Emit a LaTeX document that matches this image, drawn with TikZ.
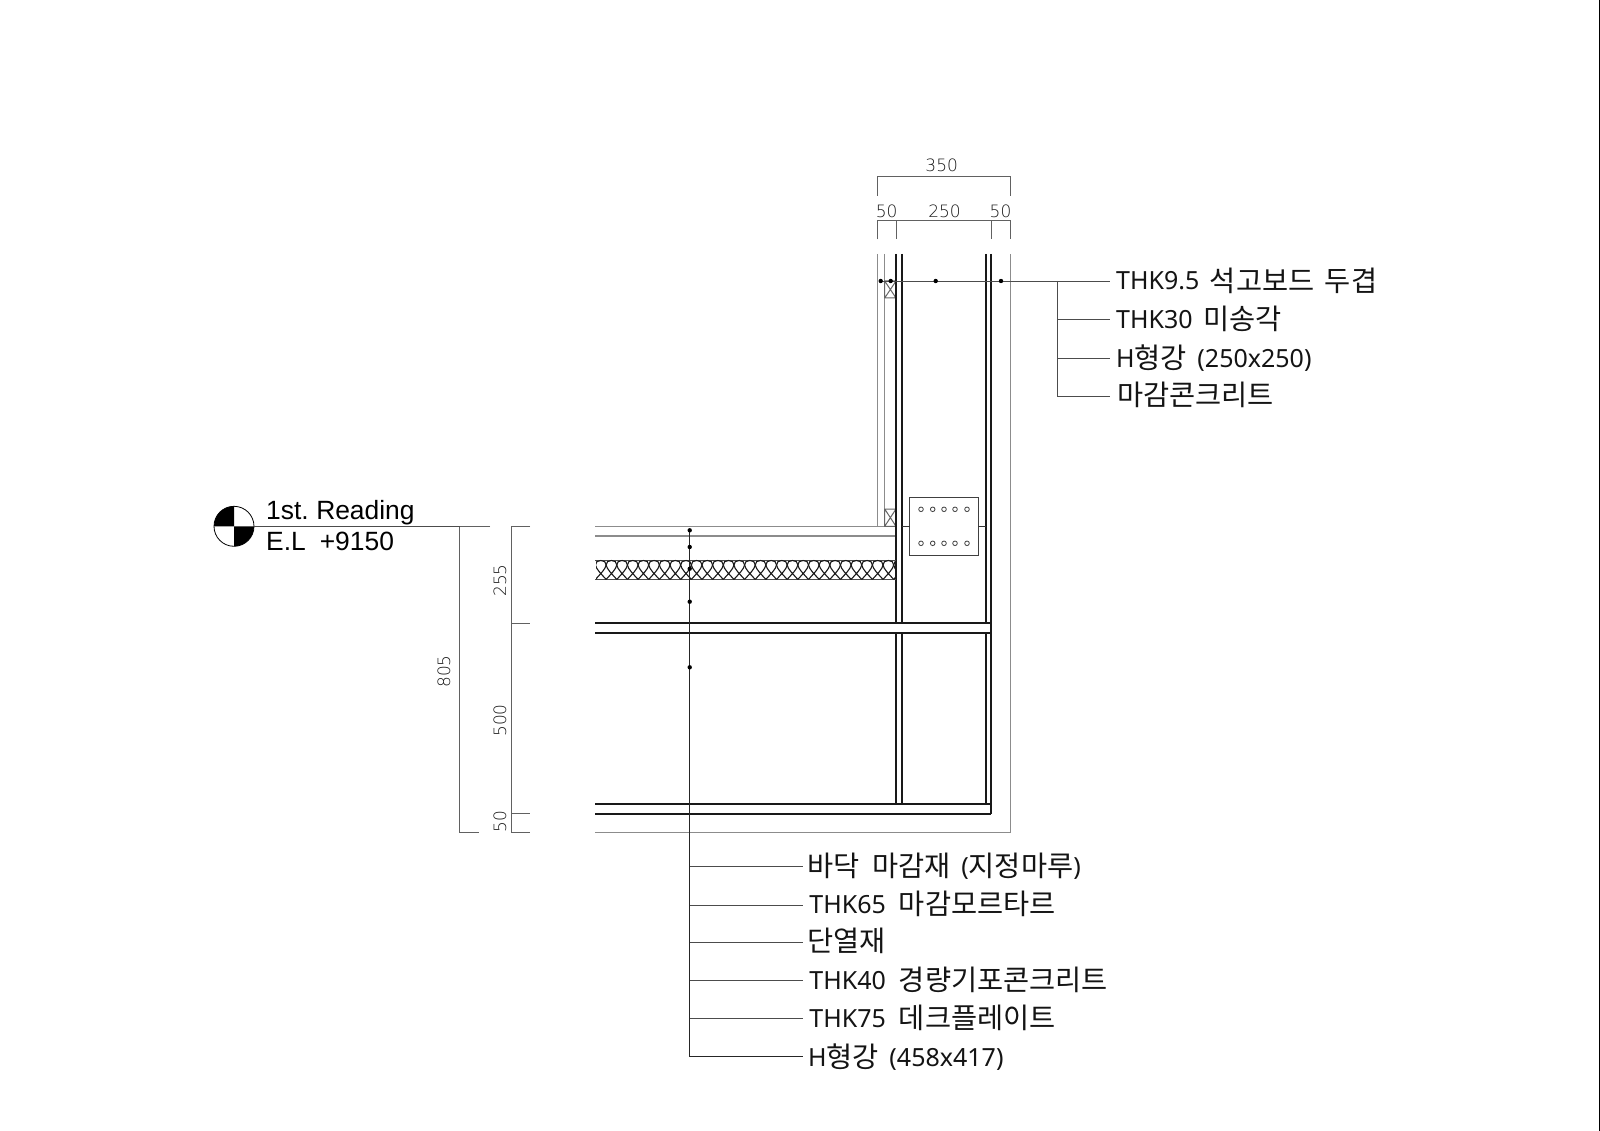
\documentclass[tikz,border=0pt]{standalone}
\usepackage{fontspec}
\setmainfont{Noto Sans}
\newfontfamily\kr{Noto Sans CJK KR}
\newfontfamily\ar{Liberation Sans}
\newfontfamily\dimf{DejaVu Sans ExtraLight}
\newcommand{\krsp}{\hspace{10.5pt}}
\newcommand{\krbp}{\hspace{13pt}}
\newcommand{\lab}[2]{{\fontsize{25}{25}\selectfont #1}\raisebox{-1.3pt}{\kr\fontsize{28.4}{28.4}\selectfont #2}}
\tikzset{
 dimline/.style={draw=black!62,line width=0.9pt},
 blk/.style={draw=black!90,line width=1.7pt},
 gry/.style={draw=black!45,line width=1pt},
 lead/.style={draw=black!70,line width=0.9pt},
 dimtxt/.style={inner sep=0,text=black!90,font=\dimf\fontsize{17}{17}\selectfont},
 labtxt/.style={inner sep=0,anchor=base west,text=black!92},
 dotn/.style={circle,fill=black,inner sep=0,minimum size=4.4pt},
 hole/.style={circle,draw=black!75,line width=0.8pt,fill=white,inner sep=0,minimum size=4.6pt},
 eltxt/.style={inner sep=0,anchor=base west,font=\ar\fontsize{26.4}{26.4}\selectfont}
}
\begin{document}
\begin{tikzpicture}[x=1pt,y=-1pt,line cap=butt,line join=miter]
\useasboundingbox[fill=white] (0,0) rectangle (1600,1131);
\fill[black] (1598.8,0) rectangle (1600,1131);
% finishing outline (grey)
\draw[gry] (877.3,254) -- (877.3,526.3);
\draw[gry] (884.7,254) -- (884.7,526.3);
\draw[gry] (595.3,526.3) -- (896,526.3);
\draw[gry,line width=1.3pt] (595.3,536) -- (896,536);
\draw[gry,line width=1.3pt] (595.3,832.7) -- (1010.3,832.7) -- (1010.3,254);
% timber blocks
\draw[gry,draw=black!60] (884.7,281) rectangle (896,298) (884.7,281) -- (896,298) (896,281) -- (884.7,298);
\draw[gry,draw=black!60] (884.7,509) rectangle (896,526.3) (884.7,509) -- (896,526.3) (896,509) -- (884.7,526.3);
% H beam column
\draw[blk] (896,254) -- (896,623.3) (896,633.3) -- (896,803.7);
\draw[blk] (902,254) -- (902,623.3) (902,633.3) -- (902,803.7);
\draw[blk] (985.7,254) -- (985.7,623.3) (985.7,633.3) -- (985.7,803.7);
\draw[blk] (991.3,254) -- (991.3,623.3) (991.3,633.3) -- (991.3,814);
% H beam flanges
\draw[blk] (595.3,623.3) -- (991.3,623.3) -- (991.3,633.3) -- (595.3,633.3);
\draw[blk] (595.3,803.7) -- (991.3,803.7);
\draw[blk] (595.3,814) -- (991.3,814);
% plate
\draw[draw=black!75,line width=1.2pt,fill=white] (909.7,497.7) rectangle (978.3,555.3);
\draw[draw=black!80,line width=1pt] (902,526.3) -- (909.7,526.3) (978.3,526.3) -- (985.7,526.3);
\foreach \hy in {509.3,543.3}\foreach \hx in {921,932.7,944,955,967}\node[hole] at (\hx,\hy) {};
% insulation
\draw[draw=black!70,line width=1.2pt] (595.3,560.5) -- (896,560.5) (595.3,579.4) -- (896,579.4);
\begin{scope}
\clip (596,559) rectangle (896,581);
\foreach \i in {0,...,29}{
 \pgfmathsetmacro{\xc}{600.8+\i*10.65}
 \draw[draw=black!90,line width=1.1pt] (\xc-5.3,579.4) .. controls (\xc-0.5,574) and (\xc+4.8,569) .. (\xc+5.3,565) .. controls (\xc+5.7,562) and (\xc+3,560.5) .. (\xc,560.5) .. controls (\xc-3,560.5) and (\xc-5.7,562) .. (\xc-5.3,565) .. controls (\xc-4.8,569) and (\xc+0.5,574) .. (\xc+5.3,579.4);
}
\end{scope}
% dimensions top
\coordinate (d0) at (877.3,195.7);\coordinate (d1) at (877.3,176.7);\coordinate (d2) at (1010.3,176.7);\coordinate (d3) at (1010.3,195.7);
\draw[dimline] (d0) -- (d1) -- (d2) -- (d3);
\draw[dimline] (877.3,239.3) -- (877.3,220.3) -- (1010.3,220.3) -- (1010.3,239.3) (896.3,220.3) -- (896.3,239.3) (991.3,220.3) -- (991.3,239.3);
\node[dimtxt] (t350) at (941.7,165) {350};
\node[dimtxt] (t50a) at (886.7,211.5) {50};
\node[dimtxt] (t250) at (944.5,211.5) {250};
\node[dimtxt] (t50b) at (1000.5,211.5) {50};
% dimensions left
\draw[dimline] (490,526.3) -- (459.7,526.3) -- (459.7,832.7) -- (479.3,832.7);
\draw[dimline] (530,526.3) -- (511,526.3) -- (511,832.7) -- (530,832.7) (511,623.3) -- (530,623.3) (511,813.7) -- (530,813.7);
\node[dimtxt,rotate=90] (t805) at (444,671.5) {805};
\node[dimtxt,rotate=90] (t255) at (500,580.5) {255};
\node[dimtxt,rotate=90] (t500) at (500,720.5) {500};
\node[dimtxt,rotate=90] (t50c) at (500,821.5) {50};
% level mark
\node[circle,draw=black,line width=0.8pt,minimum size=40pt,inner sep=0] (lv) at (234,526.3) {};
\fill[black] (234,526.3) -- (214,526.3) .. controls (214,515.3) and (223,506.3) .. (234,506.3) -- cycle;
\fill[black] (234,526.3) -- (254,526.3) .. controls (254,537.3) and (245,546.3) .. (234,546.3) -- cycle;
\draw[draw=black!70,line width=0.9pt] (lv.east) -- (459.7,526.3);
\node[eltxt] (el1) at (266,519.3) {1st.\hspace{7.5pt}Reading};
\node[eltxt] (el2) at (266,550.7) {E.L\hspace{14pt}+9150};
% leaders right
\coordinate (rs) at (880.7,281);
\node[labtxt] (r1) at (1116,290) {\lab{THK9.5\krsp}{석고보드\krsp 두겹}};
\node[labtxt] (r2) at (1116,328.3) {\lab{THK30\krsp}{미송각}};
\node[labtxt] (r3) at (1116,367) {\lab{H}{형강\krsp}\lab{(250x250)}{}};
\node[labtxt] (r4) at (1117,404) {\lab{}{마감콘크리트}};
\coordinate (rj) at (1057.3,281);
\draw[lead] (rs) -- (1110,281);
\draw[lead] (rj) |- (1110,396.3);
\draw[lead] (1057.3,319.3) -- (1110,319.3) (1057.3,358.3) -- (1110,358.3);
\foreach \x/\y in {880.7/281,890.7/281,935.7/281,1001/281}\node[dotn] at (\x,\y) {};
% leaders bottom
\draw[lead,draw=black!85] (689.7,530.3) -- (689.7,1056.7) -- (802.7,1056.7);
\draw[lead] (689.7,866.7) -- (802.7,866.7) (689.7,905) -- (802.7,905) (689.7,942.7) -- (802.7,942.7) (689.7,980.7) -- (802.7,980.7) (689.7,1018.7) -- (802.7,1018.7);
\foreach \y in {530.3,547,568.7,601.7,667.3}\node[dotn] at (689.7,\y) {};
\node[labtxt] (b1) at (807,875) {\lab{}{바닥\krbp 마감재\krsp}\lab{(}{지정마루}\lab{)}{}};
\node[labtxt] (b2) at (809.2,913.3) {\lab{THK65\krbp}{마감모르타르}};
\node[labtxt] (b3) at (807,950) {\lab{}{단열재}};
\node[labtxt] (b4) at (809.2,989) {\lab{THK40\krbp}{경량기포콘크리트}};
\node[labtxt] (b5) at (809.2,1027.3) {\lab{THK75\krbp}{데크플레이트}};
\node[labtxt] (b6) at (808,1066) {\lab{H}{형강\krsp}\lab{(458x417)}{}};
\end{tikzpicture}
\end{document}
